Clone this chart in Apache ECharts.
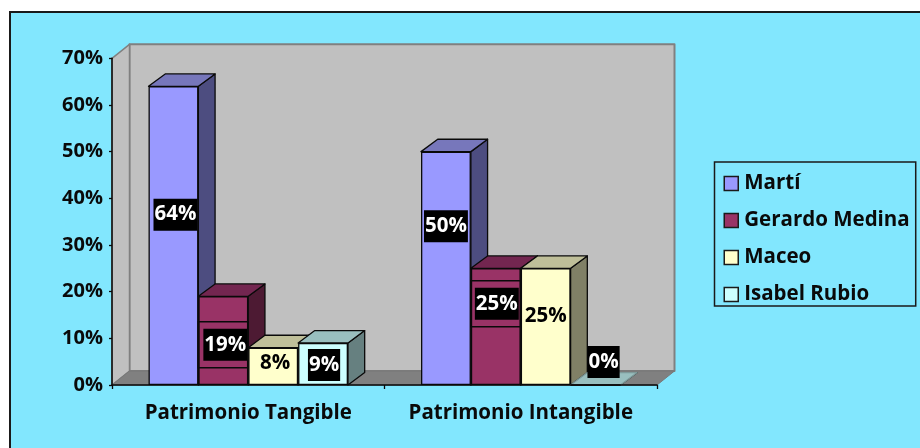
<!DOCTYPE html>
<html>
<head>
<meta charset="utf-8">
<style>
  html, body { margin: 0; padding: 0; background: #fff; }
  #panel { position: absolute; left: 9px; top: 11px; width: 911px; height: 437px; box-sizing: border-box;
           background: #82E7FE; border-left: 2px solid #1a1a1a; border-top: 2px solid #1a1a1a; }
  #chart { position: absolute; left: 0; top: 0; width: 920px; height: 448px; }
</style>
<script src="https://cdn.jsdelivr.net/npm/echarts@6/dist/echarts.min.js"></script>
</head>
<body>
<div id="panel"></div>
<div id="chart"></div>
<script>
// Share of each patrimony type by school
const categories = ['Patrimonio Tangible', 'Patrimonio Intangible'];
const yTicks = [0, 10, 20, 30, 40, 50, 60, 70];
const marti = [64, 50];
const gerardoMedina = [19, 25];
const maceo = [8, 25];
const isabelRubio = [9, 0];

const FONT = '"Open Sans"';
const INK = '#0a0a0a';
const BAR_RATIO = 0.183;   // bar width as a share of the category band
const DEPTH = [16.7, 12.4]; // bar depth, x and y
const WALL = [17.5, 14];    // room depth, x and y

// Per-school drawing options; nudge moves each value label away from the bar centre
const schools = [
  { name: 'Martí', values: marti, front: '#9999FF', top: '#7777BB', side: '#4D4D80',
    text: '#fff', box: '#000', nudge: [[2, -21], [0, -42]] },
  { name: 'Gerardo Medina', values: gerardoMedina, front: '#993366', top: '#732650', side: '#4D1A33',
    text: '#fff', box: '#000', nudge: [[2, 4], [1, -23]], halo: true },
  { name: 'Maceo', values: maceo, front: '#FFFFCC', top: '#BFBF99', side: '#808066',
    text: '#000', box: null, nudge: [[2, -3], [0, -11]] },
  { name: 'Isabel Rubio', values: isabelRubio, front: '#CCFFFF', top: '#99BFBF', side: '#668080',
    text: '#fff', box: '#000', nudge: [[1, 1], [8, -23]] }
];

function poly(points, fill, stroke, width) {
  return { type: 'polygon', shape: { points }, style: { fill, stroke, lineWidth: width, lineJoin: 'round' } };
}

// Back wall, side wall and floor of the 3-D room
function renderRoom(params, api) {
  const g = params.coordSys;
  const [dx, dy] = WALL;
  const l = g.x, r = g.x + g.width, t = g.y, b = g.y + g.height;
  return {
    type: 'group',
    children: [
      poly([[l + dx, t - dy], [r + dx, t - dy], [r + dx, b - dy], [l + dx, b - dy]], '#C0C0C0', '#808080', 2),
      poly([[l, t], [l + dx, t - dy], [l + dx, b - dy], [l, b]], '#C0C0C0', '#808080', 1.5),
      poly([[l, b], [l + dx, b - dy], [r + dx, b - dy], [r, b]], '#808080', '#777777', 1)
    ]
  };
}

// Top and side faces of one school's bars, following the value and category scales
function depthRenderer(school, idx) {
  return function (params, api) {
    const cat = api.value(0), val = api.value(1);
    const base = api.coord([cat, 0]);
    const head = api.coord([cat, val]);
    const w = api.size([1, 0])[0] * BAR_RATIO;
    const x0 = base[0] + (idx - 2) * w, x1 = x0 + w;
    const [dx, dy] = DEPTH;
    const children = [
      poly([[x1, head[1]], [x1 + dx, head[1] - dy], [x1 + dx, base[1] - dy], [x1, base[1]]], school.side, '#0a0a0a', 1.3),
      poly([[x0, head[1]], [x0 + dx, head[1] - dy], [x1 + dx, head[1] - dy], [x1, head[1]]], school.top, val === 0 ? '#7f9a9a' : '#0a0a0a', 1.3)
    ];
    return { type: 'group', children };
  };
}

// Outlined strip that sits behind a boxed value label
function haloRenderer(school, idx) {
  return function (params, api) {
    const cat = api.value(0), val = api.value(1);
    const base = api.coord([cat, 0]);
    const head = api.coord([cat, val]);
    const w = api.size([1, 0])[0] * BAR_RATIO;
    const x0 = base[0] + (idx - 2) * w;
    const cy = (base[1] + head[1]) / 2 + school.nudge[cat][1];
    return { type: 'rect', shape: { x: x0, y: cy - 23, width: w, height: 46 },
             style: { fill: 'none', stroke: '#0a0a0a', lineWidth: 1.5 } };
  };
}

const series = [{
  type: 'custom', name: 'room', silent: true, z: 1,
  data: [[0, 0]], encode: { x: 0, y: 1 }, renderItem: renderRoom
}];

schools.forEach((s, i) => {
  series.push({
    type: 'custom', name: s.name + ' faces', silent: true, z: 2 + i * 3,
    data: s.values.map((v, c) => [c, v]), encode: { x: 0, y: 1 }, renderItem: depthRenderer(s, i)
  });
  series.push({
    type: 'bar', name: s.name, z: 3 + i * 3, barWidth: BAR_RATIO * 100 + '%', barGap: 0,
    itemStyle: { color: s.front, borderColor: '#0a0a0a', borderWidth: 1.3 },
    data: s.values.map((v, c) => ({
      value: v,
      label: {
        show: true, position: 'inside', offset: s.nudge[c], formatter: '{c}%',
        color: s.text, fontFamily: FONT, fontWeight: 'bold', fontSize: 20.5, lineHeight: 20,
        backgroundColor: s.box || 'transparent', padding: [6, 1, 6, 1]
      }
    }))
  });
  if (s.halo) {
    series.push({
      type: 'custom', name: s.name + ' outline', silent: true, z: 4 + i * 3,
      data: s.values.map((v, c) => [c, v]), encode: { x: 0, y: 1 }, renderItem: haloRenderer(s, i)
    });
  }
});

const chart = echarts.init(document.getElementById('chart'), null, { renderer: 'canvas' });
chart.setOption({
  animation: false,
  backgroundColor: 'transparent',
  grid: { left: 112, top: 58.3, width: 545, height: 326.7 },
  xAxis: {
    type: 'category', data: categories, z: 30,
    axisLine: { lineStyle: { color: INK, width: 1.5 } },
    axisTick: { show: true, interval: 0, length: 4, lineStyle: { color: INK, width: 1.3 } },
    axisLabel: { interval: 0, color: INK, fontFamily: FONT, fontWeight: 'bold', fontSize: 20.5, margin: 18 }
  },
  yAxis: {
    type: 'value', min: yTicks[0], max: yTicks[yTicks.length - 1], interval: 10, z: 30,
    axisLine: { show: true, lineStyle: { color: INK, width: 1.5 } },
    axisTick: { show: true, length: 3, lineStyle: { color: INK, width: 1.3 } },
    splitLine: { show: false },
    axisLabel: { color: INK, fontFamily: FONT, fontWeight: 'bold', fontSize: 20, margin: 9, padding: [3, 0, 0, 0], formatter: '{value}%' }
  },
  legend: {
    orient: 'vertical', left: 714.5, top: 162, itemWidth: 14, itemHeight: 14, itemGap: 16,
    selectedMode: false, icon: 'rect',
    data: schools.map(s => s.name),
    padding: [11, 6, 1, 9],
    backgroundColor: 'transparent', borderColor: '#1a1a1a', borderWidth: 1.5,
    itemStyle: { borderColor: '#1a1a1a', borderWidth: 1.5 },
    textStyle: { color: INK, fontFamily: FONT, fontWeight: 'bold', fontSize: 20.5, lineHeight: 20, padding: [0, 0, 0, 1] }
  },
  series
});
</script>
</body>
</html>
